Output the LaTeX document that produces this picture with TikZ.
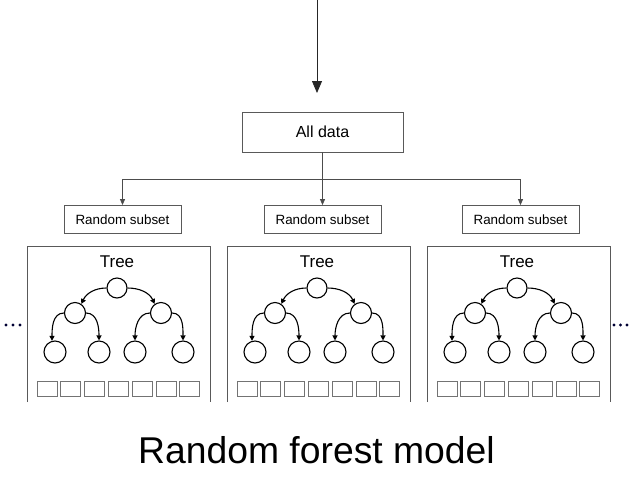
\documentclass[tikz,border=0pt]{standalone}
\usepackage{fontspec}
\setmainfont{Liberation Sans}
\usetikzlibrary{arrows.meta}
\begin{document}
\begin{tikzpicture}[x=1pt,y=-1pt,
  boxline/.style={draw=black!65, line width=0.8pt},
  databox/.style={boxline, minimum width=161pt, minimum height=40pt, inner sep=0pt, font=\fontsize{16}{18}\selectfont},
  subbox/.style={boxline, minimum width=117pt, minimum height=28pt, inner sep=0pt, font=\fontsize{13.4}{15}\selectfont},
  conn/.style={draw=black!70, line width=0.8pt},
  connarrow/.style={conn, -{Triangle[length=6pt,width=5pt]}},
  treenode/.style={circle, draw=black, line width=1.1pt, inner sep=0pt},
  treearrow/.style={draw=black, line width=1.1pt, -{Triangle[length=5pt,width=5pt]}},
  leafbox/.style={draw=black!55, line width=0.8pt, minimum width=20pt, minimum height=15pt, inner sep=0pt},
  dot/.style={circle, fill=black!80!blue, inner sep=0pt, minimum size=3.2pt}
]
\useasboundingbox (0,0) rectangle (631,493);

% top arrow
\coordinate (topstart) at (317,0);
\coordinate (topend) at (317,93);
\draw[conn, draw=black!85, -{Triangle[length=12pt,width=10pt]}] (topstart) -- (topend);

\node[databox] (all) at (322.5,132) {All data};

\node[subbox] (s1) at (122.5,219.5) {Random subset};
\node[subbox] (s2) at (322.5,219.5) {Random subset};
\node[subbox] (s3) at (520.5,219.5) {Random subset};

\coordinate (hl) at (122.5,179);
\coordinate (hm) at (322.5,179);
\coordinate (hr) at (520.5,179);
\draw[conn] (all.south) -- (hm);
\draw[conn] (hl) -- (hr);
\draw[connarrow] (hl) -- (s1.north);
\draw[connarrow] (hm) -- (s2.north);
\draw[connarrow] (hr) -- (s3.north);

\foreach \i/\dx in {1/0,2/200,3/400}{
  \begin{scope}[xshift=\dx]
    \draw[boxline] (27,402) -- (27,246) -- (210,246) -- (210,402);
    \node[font=\fontsize{17}{19}\selectfont] (t\i) at (117,262) {Tree};
    \node[treenode, minimum size=20pt] (r\i) at (117,288) {};
    \node[treenode, minimum size=21pt] (a\i) at (75,313) {};
    \node[treenode, minimum size=21pt] (b\i) at (161,313) {};
    \node[treenode, minimum size=22pt] (l\i a) at (55,352) {};
    \node[treenode, minimum size=22pt] (l\i b) at (99,352) {};
    \node[treenode, minimum size=22pt] (l\i c) at (135,352) {};
    \node[treenode, minimum size=22pt] (l\i d) at (183,352) {};
    \draw[treearrow] (r\i.west) to[out=180,in=65] (a\i.55);
    \draw[treearrow] (r\i.east) to[out=0,in=115] (b\i.125);
    \draw[treearrow] (a\i.west) to[out=180,in=90] (l\i a.105);
    \draw[treearrow] (a\i.east) to[out=0,in=90] (l\i b.north);
    \draw[treearrow] (b\i.west) to[out=180,in=90] (l\i c.north);
    \draw[treearrow] (b\i.east) to[out=0,in=90] (l\i d.north);
    \foreach \j in {0,...,6}{
      \node[leafbox] (q\i\j) at ({47+23.8*\j},388.5) {};
    }
  \end{scope}
}

\node[dot] (d1) at (6,325) {};
\node[dot] (d2) at (13,325) {};
\node[dot] (d3) at (20,325) {};
\node[dot] (d4) at (614,325) {};
\node[dot] (d5) at (620.5,325) {};
\node[dot] (d6) at (627,325) {};

\node[anchor=base, font=\fontsize{37.3}{40}\selectfont, inner sep=0pt] (title) at (316.5,463) {Random forest model};
\end{tikzpicture}
\end{document}
